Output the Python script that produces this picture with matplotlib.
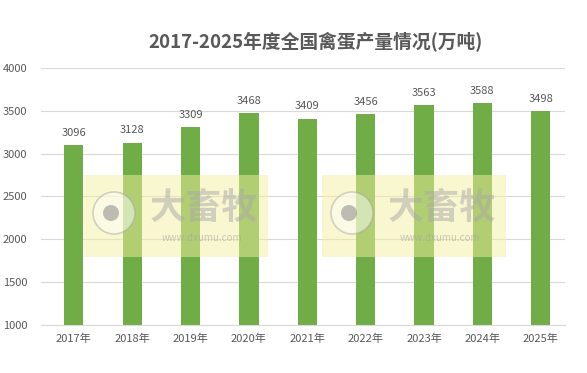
import matplotlib
matplotlib.use("Agg")
import matplotlib.pyplot as plt
from matplotlib.patches import Rectangle, Circle

plt.rcParams['font.family'] = ['Noto Sans CJK SC', 'DejaVu Sans']

# 数据
years = ["2017年", "2018年", "2019年", "2020年", "2021年", "2022年", "2023年", "2024年", "2025年"]
output = [3096, 3128, 3309, 3468, 3409, 3456, 3563, 3588, 3498]
y_ticks = [1000, 1500, 2000, 2500, 3000, 3500, 4000]

grey = "#595959"
green = "#70AD47"

fig = plt.figure(figsize=(5.87, 3.73), dpi=100)
ax = fig.add_axes([0.070, 0.129, 0.893, 0.689])

x = list(range(len(years)))
ax.bar(x, output, width=0.33, color=green, zorder=2)
for xi, v in zip(x, output):
    ax.text(xi, v + 85, str(v), ha="center", va="bottom", fontsize=8, color=grey)

ax.set_ylim(1000, 4000)
ax.set_xlim(-0.56, 8.42)
ax.set_yticks(y_ticks)
ax.set_yticklabels([str(t) for t in y_ticks], fontsize=8, color=grey)
ax.set_xticks(x)
ax.set_xticklabels(years, fontsize=8, color=grey)
ax.tick_params(length=0, pad=6)
ax.tick_params(axis="y", pad=10)
ax.grid(axis="y", color="#d9d9d9", linewidth=0.8, zorder=0)
for s in ["top", "right", "left"]:
    ax.spines[s].set_visible(False)
ax.spines["bottom"].set_color("#d9d9d9")

fig.text(0.537, 0.887, "2017-2025年度全国禽蛋产量情况(万吨)", ha="center", va="center",
         fontsize=13.5, fontweight="bold", color=grey)

# 水印
for x0 in [84, 322]:
    W, H = 184, 82
    y0 = 373 - 257
    box = Rectangle((x0, y0), W, H, transform=None,
                    facecolor="#f5f0a0", edgecolor="none", alpha=0.5, zorder=5)
    fig.patches.append(box)
    ring = Circle((x0 + 30, y0 + 44), 21, transform=None, facecolor="#ffffff",
                  edgecolor="#a0a0a0", linewidth=1.2, alpha=0.45, zorder=6)
    fig.patches.append(ring)
    dot = Circle((x0 + 27, y0 + 44), 8, transform=None, facecolor="#8a8a8a",
                 edgecolor="none", alpha=0.55, zorder=7)
    fig.patches.append(dot)
    fig.text((x0 + 120) / 587, (y0 + 49) / 373, "大畜牧", ha="center", va="center",
             fontsize=26, fontweight="bold", color="#a8a8a8", alpha=0.5, zorder=8)
    fig.text((x0 + 118) / 587, (y0 + 19) / 373, "www.dxumu.com", ha="center", va="center",
             fontsize=7, color="#a0a0a0", alpha=0.55, zorder=8)

fig.savefig("out.png", dpi=100)
